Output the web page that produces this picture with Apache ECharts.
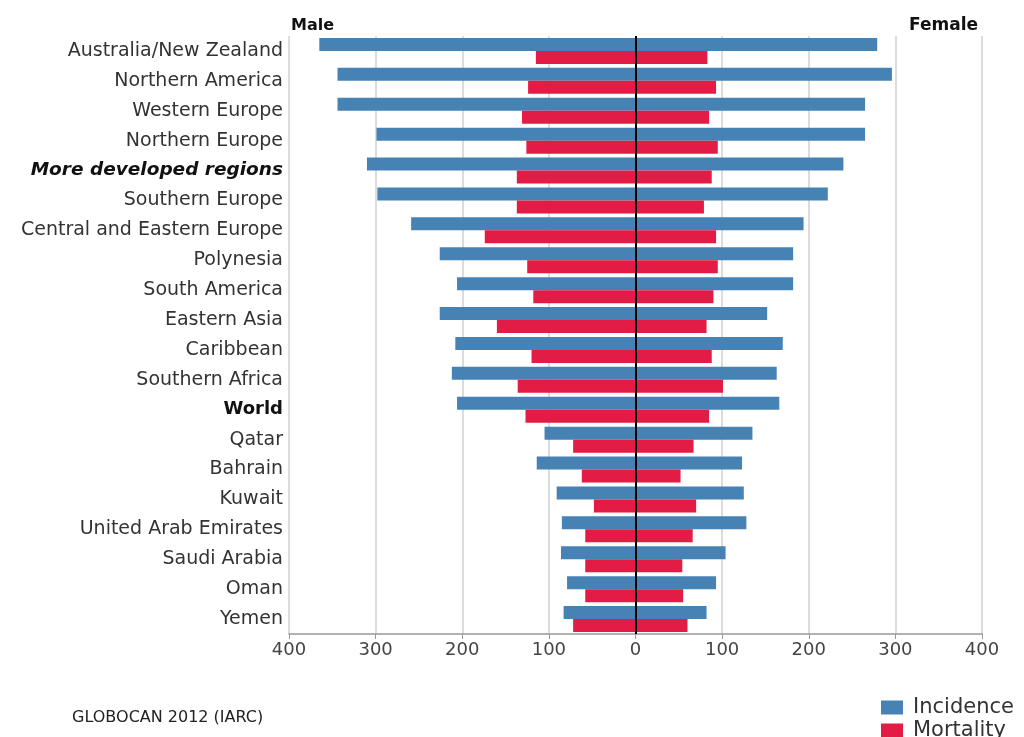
<!DOCTYPE html>
<html>
<head>
<meta charset="utf-8">
<script src="https://cdn.jsdelivr.net/npm/echarts@6/dist/echarts.min.js"></script>
<style>
html,body{margin:0;padding:0;background:#fff;}
#chart{width:1024px;height:737px;}
</style>
</head>
<body>
<div id="chart"></div>
<script>
const categories = ['Australia/New Zealand','Northern America','Western Europe','Northern Europe','More developed regions','Southern Europe','Central and Eastern Europe','Polynesia','South America','Eastern Asia','Caribbean','Southern Africa','World','Qatar','Bahrain','Kuwait','United Arab Emirates','Saudi Arabia','Oman','Yemen'];
const maleIncidence = [365,344,344,299,310,298,259,226,206,226,208,212,206,105,114,91,85,86,79,83];
const maleMortality = [115,124,131,126,137,137,174,125,118,160,120,136,127,72,62,48,58,58,58,72];
const femaleIncidence = [279,296,265,265,240,222,194,182,182,152,170,163,166,135,123,125,128,104,93,82];
const femaleMortality = [83,93,85,95,88,79,93,95,90,82,88,101,85,67,52,70,66,54,55,60];
const boldLabels = ['World'];
const boldItalicLabels = ['More developed regions'];

const FONT = 'DejaVu Sans';
const BLUE = '#4682b4';
const RED = '#e31c45';

const chart = echarts.init(document.getElementById('chart'));
const barBase = {type:'bar', barWidth:13, barGap:'0%', silent:true};
chart.setOption({
  animation:false,
  textStyle:{fontFamily:FONT},
  grid:{left:289, right:42, top:36, bottom:103, containLabel:false},
  legend:{
    data:['Incidence','Mortality'],
    orient:'vertical', left:881, top:697, height:90, padding:0,
    itemWidth:22, itemHeight:14, itemGap:2,
    icon:'rect',
    textStyle:{fontFamily:FONT, fontSize:21, lineHeight:20, color:'#333', padding:[0,0,0,5]}
  },
  graphic:[
    {type:'text', left:291, top:18, style:{text:'Male', font:'bold 16px "DejaVu Sans"', fill:'#111'}},
    {type:'text', right:46, top:17, style:{text:'Female', font:'bold 17px "DejaVu Sans"', fill:'#111'}},
    {type:'text', left:72, top:710, style:{text:'GLOBOCAN 2012 (IARC)', font:'16px "DejaVu Sans"', fill:'#222'}}
  ],
  xAxis:{
    type:'value', min:-400, max:400, interval:100,
    axisLine:{show:true, lineStyle:{color:'#999', width:1.5}},
    axisTick:{show:true, length:5, lineStyle:{color:'#999'}},
    axisLabel:{formatter:v=>String(Math.abs(v)), fontFamily:FONT, fontSize:18, color:'#444', margin:7},
    splitLine:{show:true, lineStyle:{color:'#d0d0d0', width:1.5}}
  },
  yAxis:{
    type:'category', data:categories, inverse:true,
    axisLine:{show:false}, axisTick:{show:false},
    axisLabel:{
      margin:6, fontFamily:FONT, fontSize:19, color:'#333',
      formatter:v=> boldLabels.includes(v) ? '{b|'+v+'}' : (boldItalicLabels.includes(v) ? '{bi|'+v+'}' : v),
      rich:{
        b:{fontWeight:'bold', fontFamily:FONT, fontSize:18, color:'#111'},
        bi:{fontWeight:'bold', fontStyle:'italic', fontFamily:FONT, fontSize:18.5, color:'#111'}
      }
    }
  },
  series:[
    Object.assign({}, barBase, {name:'Incidence', stack:'inc', itemStyle:{color:BLUE}, data:maleIncidence.map(v=>-v),
      markLine:{silent:true, symbol:'none', label:{show:false}, lineStyle:{color:'#000', width:2, type:'solid'}, data:[{xAxis:0}]}}),
    Object.assign({}, barBase, {name:'Incidence', stack:'inc', itemStyle:{color:BLUE}, data:femaleIncidence}),
    Object.assign({}, barBase, {name:'Mortality', stack:'mort', itemStyle:{color:RED}, data:maleMortality.map(v=>-v)}),
    Object.assign({}, barBase, {name:'Mortality', stack:'mort', itemStyle:{color:RED}, data:femaleMortality})
  ]
});
</script>
</body>
</html>
